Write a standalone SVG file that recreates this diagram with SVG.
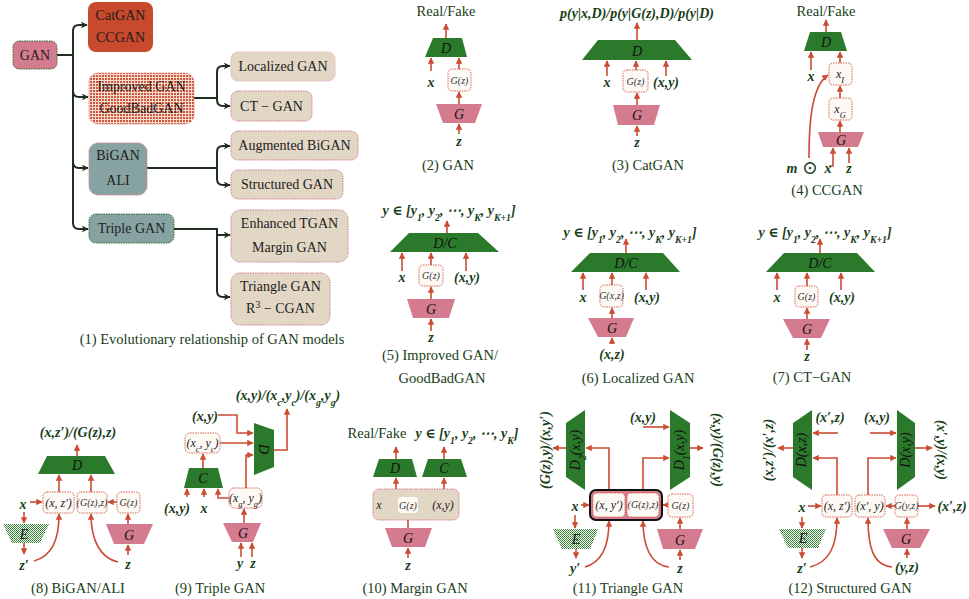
<svg xmlns="http://www.w3.org/2000/svg" width="969" height="599" viewBox="0 0 969 599" font-family="'Liberation Serif', 'DejaVu Serif', serif">
<defs>
<marker id="ah" viewBox="0 0 10 10" refX="9" refY="5" markerWidth="4" markerHeight="4" orient="auto"><path d="M0,0 L10,5 L0,10 z" fill="#cc4b33"/></marker>
<marker id="bk" viewBox="0 0 10 10" refX="9" refY="5" markerWidth="3.5" markerHeight="3.5" orient="auto"><path d="M0,0 L10,5 L0,10 L3,5 z" fill="#1f2f1f"/></marker>
<pattern id="hatch" width="3" height="3" patternUnits="userSpaceOnUse"><rect width="3" height="3" fill="#f3dccf"/><rect width="2" height="2" fill="#d0573c"/></pattern>
<pattern id="dots" width="2" height="2" patternUnits="userSpaceOnUse"><rect width="2" height="2" fill="#ffffff"/><rect width="1" height="1" fill="#2b7a2b"/><rect x="1" y="1" width="1" height="1" fill="#3f8f3f"/></pattern>
<style>
.g{fill:#2b7a2b}
.p{fill:#d47b8f}
.e{fill:url(#dots)}
.ar{stroke:#cc4b33;stroke-width:1.6;fill:none;marker-end:url(#ah)}
.tl{stroke:#1f2f1f;stroke-width:2;fill:none;marker-end:url(#bk)}
.bx{fill:#fdfaf5;stroke:#d6604e;stroke-width:1;stroke-dasharray:1.5 1}
text{font-family:"Liberation Serif","Times New Roman","DejaVu Serif",serif}
.tx{text-anchor:middle;fill:#173d17}
.cap{font-size:14.5px}
.lb{font-size:14px;font-style:italic;font-weight:bold}
.nm{font-size:14px;font-style:italic;fill:#111}
.sm{font-size:10px;font-style:italic;fill:#333}
.md{font-size:12px;font-style:italic;fill:#222}
.nt{font-size:14px;fill:#1d1d1d}
.sb{font-size:70%;baseline-shift:sub}
.sp{font-size:70%;baseline-shift:super}
</style>
</defs>

<g id="tree-connectors">
<path class="tl" d="M57,55 H73 V31 Q73,25 79,25 H87"/>
<path class="tl" d="M57,55 H73 V91 Q73,97 79,97 H88"/>
<path class="tl" d="M57,55 H73 V162 Q73,168 79,168 H88"/>
<path class="tl" d="M57,55 H73 V223 Q73,229 79,229 H88"/>
<path class="tl" d="M194,98 H217 V72 Q217,66 223,66 H230"/>
<path class="tl" d="M194,98 H217 V100 Q217,106 223,106 H230"/>
<path class="tl" d="M147,168 H217 V152 Q217,146 223,146 H230"/>
<path class="tl" d="M147,168 H217 V179 Q217,185 223,185 H230"/>
<path class="tl" d="M174,229 H217 V291 Q217,297 223,297 H230"/>
<path class="tl" d="M217,235 H230"/>
</g>
<g id="n-gan"><rect x="13" y="41" width="44" height="28" rx="6" fill="#d47b8f" stroke="#2b6a2b" stroke-dasharray="1.5 1"/><text class="tx nt" x="35" y="60">GAN</text></g>
<g id="n-catgan"><rect x="88" y="2" width="65" height="50" rx="8" fill="#c8492c"/><text class="tx nt" x="120.5" y="20">CatGAN</text><text class="tx nt" x="120.5" y="42">CCGAN</text></g>
<g id="n-improved"><rect x="89" y="73" width="105" height="51" rx="9" fill="url(#hatch)" stroke="#e08a8a" stroke-dasharray="1.5 1"/><text class="tx nt" x="141.5" y="91">Improved GAN</text><text class="tx nt" x="141.5" y="113">GoodBadGAN</text></g>
<g id="n-localized"><rect x="231" y="52" width="104" height="29" rx="7" fill="#e2d6c5" stroke="#e9c6c6"/><text class="tx nt" x="283" y="71">Localized GAN</text></g>
<g id="n-ctgan"><rect x="231" y="91" width="81" height="30" rx="7" fill="#e2d6c5" stroke="#d47b8f" stroke-dasharray="1.5 1"/><text class="tx nt" x="271.5" y="111">CT − GAN</text></g>
<g id="n-bigan"><rect x="89" y="143" width="58" height="52" rx="9" fill="#86a3a2" stroke="#d47b8f" stroke-dasharray="1.5 1"/><text class="tx nt" x="118" y="160">BiGAN</text><text class="tx nt" x="118" y="185">ALI</text></g>
<g id="n-augbigan"><rect x="231" y="131" width="127" height="29" rx="7" fill="#e2d6c5" stroke="#d47b8f" stroke-dasharray="1.5 1"/><text class="tx nt" x="294.5" y="150">Augmented BiGAN</text></g>
<g id="n-structured"><rect x="231" y="170" width="112" height="29" rx="7" fill="#e2d6c5" stroke="#d47b8f" stroke-dasharray="1.5 1"/><text class="tx nt" x="287" y="189">Structured GAN</text></g>
<g id="n-triple"><rect x="89" y="214" width="85" height="29" rx="7" fill="#86a3a2" stroke="#2b6a2b" stroke-dasharray="1.5 1"/><text class="tx nt" x="131.5" y="233">Triple GAN</text></g>
<g id="n-enhanced"><rect x="231" y="210" width="117" height="52" rx="9" fill="#e2d6c5" stroke="#d47b8f" stroke-dasharray="1.5 1"/><text class="tx nt" x="289.5" y="228">Enhanced TGAN</text><text class="tx nt" x="289.5" y="252">Margin GAN</text></g>
<g id="n-triangle"><rect x="231" y="273" width="99" height="52" rx="9" fill="#e2d6c5" stroke="#d47b8f" stroke-dasharray="1.5 1"/><text class="tx nt" x="280.5" y="291">Triangle GAN</text><text class="tx nt" x="280.5" y="313">R<tspan class="sp">3</tspan> − CGAN</text></g>
<text class="tx cap" x="212" y="344">(1)  Evolutionary relationship of GAN models</text>

<g id="p2">
<g class="connectors">
<path class="ar" d="M446,38 V24"/><path class="ar" d="M431,71 V58"/><path class="ar" d="M459,69 V58"/><path class="ar" d="M459,104 V92"/><path class="ar" d="M459,134 V124"/>
</g>
<g id="p2-d"><polygon class="g" points="433,38 462,38 467,57 425,57"/><text class="tx nm" x="446" y="53">D</text></g>
<g id="p2-gz"><rect class="bx" x="448" y="69" width="23" height="22" rx="4"/><text class="tx sm" x="459.5" y="83.5">G(z)</text></g>
<g id="p2-g"><polygon class="p" points="436,104 482,104 475,123 443,123"/><text class="tx nm" x="459" y="119">G</text></g>
<text class="tx cap" x="446" y="16">Real/Fake</text>
<text class="tx lb" x="431" y="87">x</text>
<text class="tx lb" x="459" y="146">z</text>
<text class="tx cap" x="448" y="170">(2) GAN</text>
</g>

<g id="p3">
<g class="connectors">
<path class="ar" d="M637,40 V23"/><path class="ar" d="M607,76 V61"/><path class="ar" d="M636,70 V61"/><path class="ar" d="M666,76 V61"/><path class="ar" d="M637,105 V93"/><path class="ar" d="M637,136 V126"/>
</g>
<g id="p3-d"><polygon class="g" points="598,40 675,40 692,60 582,60"/><text class="tx nm" x="637" y="56">D</text></g>
<g id="p3-gz"><rect class="bx" x="623" y="70" width="25" height="22" rx="4"/><text class="tx sm" x="635.5" y="85" font-size="11">G(z)</text></g>
<g id="p3-g"><polygon class="p" points="613,105 660,105 654,125 618,125"/><text class="tx nm" x="637" y="120">G</text></g>
<text class="tx lb" x="637" y="18" font-size="15">p(y|x,D)/p(y|G(z),D)/p(y|D)</text>
<text class="tx lb" x="607" y="87">x</text>
<text class="tx lb" x="666" y="87">(x,y)</text>
<text class="tx lb" x="637" y="147">z</text>
<text class="tx cap" x="648" y="170">(3) CatGAN</text>
</g>

<g id="p4">
<g class="connectors">
<path class="ar" d="M826,32 V20"/><path class="ar" d="M811,70 V52"/><path class="ar" d="M840,63 V52"/><path class="ar" d="M840,98 V86"/><path class="ar" d="M840,132 V121"/>
<path class="ar" d="M829,166 H833 V148"/><path class="ar" d="M849,163 V148"/>
<path class="ar" d="M809,158 C809,120 812,86 828,75"/>
</g>
<g id="p4-d"><polygon class="g" points="810,32 841,32 847,51 804,51"/><text class="tx nm" x="826" y="47">D</text></g>
<g id="p4-xi"><rect class="bx" x="829" y="63" width="23" height="22" rx="4"/><text class="tx md" x="840" y="78" font-size="13">x<tspan class="sb">I</tspan></text></g>
<g id="p4-xg"><rect class="bx" x="829" y="98" width="23" height="22" rx="4"/><text class="tx md" x="840" y="113" font-size="13">x<tspan class="sb">G</tspan></text></g>
<g id="p4-g"><polygon class="p" points="818,132 864,132 858,147 823,147"/><text class="tx nm" x="841" y="145">G</text></g>
<text class="tx cap" x="826" y="16">Real/Fake</text>
<text class="tx lb" x="811" y="81">x</text>
<text class="tx lb" x="792" y="173" font-size="16">m</text>
<text class="tx" x="810" y="174" font-size="19" fill="#173d17">⊙</text>
<text class="tx lb" x="828" y="173">x</text>
<text class="tx lb" x="849" y="173">z</text>
<text class="tx cap" x="827" y="195">(4) CCGAN</text>
</g>

<g id="p5">
<g class="connectors">
<path class="ar" d="M447,233 V221"/><path class="ar" d="M402,271 V253"/><path class="ar" d="M431,265 V253"/><path class="ar" d="M466,271 V253"/><path class="ar" d="M431,299 V287"/><path class="ar" d="M431,331 V319"/>
</g>
<g id="p5-d"><polygon class="g" points="409,233 478,233 499,252 390,252"/><text class="tx nm" x="445" y="248">D/C</text></g>
<g id="p5-gz"><rect class="bx" x="419" y="265" width="24" height="21" rx="4"/><text class="tx sm" x="431" y="279">G(z)</text></g>
<g id="p5-g"><polygon class="p" points="407,299 455,299 449,318 413,318"/><text class="tx nm" x="431" y="314">G</text></g>
<text class="tx lb" x="449" y="215">y ∈ [y<tspan class="sb">1</tspan>, y<tspan class="sb">2</tspan>, ⋯, y<tspan class="sb">K</tspan>, y<tspan class="sb">K+1</tspan>]</text>
<text class="tx lb" x="402" y="282">x</text>
<text class="tx lb" x="467" y="282">(x,y)</text>
<text class="tx lb" x="431" y="342">z</text>
<text class="tx cap" x="440" y="360">(5) Improved GAN/</text>
<text class="tx cap" x="442" y="383">GoodBadGAN</text>
</g>

<g id="p6">
<g class="connectors">
<path class="ar" d="M626,253 V239"/><path class="ar" d="M583,290 V273"/><path class="ar" d="M612,285 V273"/><path class="ar" d="M646,290 V273"/><path class="ar" d="M612,318 V308"/><path class="ar" d="M612,344 V338"/>
</g>
<g id="p6-d"><polygon class="g" points="590,253 663,253 680,272 571,272"/><text class="tx nm" x="626" y="268">D/C</text></g>
<g id="p6-gxz"><rect class="bx" x="600" y="285" width="23" height="22" rx="4"/><text class="tx sm" x="611.5" y="299" font-size="7">G(x,z)</text></g>
<g id="p6-g"><polygon class="p" points="588,318 634,318 626,337 598,337"/><text class="tx nm" x="612" y="333">G</text></g>
<text class="tx lb" x="630" y="237">y ∈ [y<tspan class="sb">1</tspan>, y<tspan class="sb">2</tspan>, ⋯, y<tspan class="sb">K</tspan>, y<tspan class="sb">K+1</tspan>]</text>
<text class="tx lb" x="583" y="302">x</text>
<text class="tx lb" x="647" y="302">(x,y)</text>
<text class="tx lb" x="612" y="359">(x,z)</text>
<text class="tx cap" x="638" y="383">(6) Localized GAN</text>
</g>

<g id="p7">
<g class="connectors">
<path class="ar" d="M820,253 V239"/><path class="ar" d="M777,290 V273"/><path class="ar" d="M807,286 V273"/><path class="ar" d="M841,290 V273"/><path class="ar" d="M807,319 V308"/><path class="ar" d="M807,350 V339"/>
</g>
<g id="p7-d"><polygon class="g" points="784,253 857,253 875,272 766,272"/><text class="tx nm" x="820" y="268">D/C</text></g>
<g id="p7-gz"><rect class="bx" x="795" y="286" width="23" height="21" rx="4"/><text class="tx sm" x="806.5" y="300">G(z)</text></g>
<g id="p7-g"><polygon class="p" points="783,319 830,319 821,338 793,338"/><text class="tx nm" x="807" y="334">G</text></g>
<text class="tx lb" x="825" y="237">y ∈ [y<tspan class="sb">1</tspan>, y<tspan class="sb">2</tspan>, ⋯, y<tspan class="sb">K</tspan>, y<tspan class="sb">K+1</tspan>]</text>
<text class="tx lb" x="777" y="302">x</text>
<text class="tx lb" x="842" y="302">(x,y)</text>
<text class="tx lb" x="807" y="361">z</text>
<text class="tx cap" x="812" y="382">(7) CT−GAN</text>
</g>

<g id="p8">
<g class="connectors">
<path class="ar" d="M77,456 V445"/><path class="ar" d="M59,492 V475"/><path class="ar" d="M91,492 V475"/><path class="ar" d="M117,502 H108"/>
<path class="ar" d="M30,502 H42"/><path class="ar" d="M24,512 V523"/><path class="ar" d="M24,543 V554"/>
<path class="ar" d="M34,561 C52,556 59,540 59,514"/><path class="ar" d="M118,562 C100,558 91,540 91,514"/>
<path class="ar" d="M128,524 V514"/><path class="ar" d="M128,555 V545"/>
</g>
<g id="p8-d"><polygon class="g" points="47,456 105,456 115,474 38,474"/><text class="tx nm" x="77" y="470">D</text></g>
<g id="p8-xz"><rect class="bx" x="43" y="492" width="31" height="21" rx="4"/><text class="tx md" x="58.5" y="506.5" font-size="11">(x, z′)</text></g>
<g id="p8-gzz"><rect class="bx" x="77" y="492" width="30" height="21" rx="4"/><text class="tx sm" x="92" y="505.5" font-size="8">(G(z),z)</text></g>
<g id="p8-gz"><rect class="bx" x="117" y="492" width="23" height="21" rx="4"/><text class="tx sm" x="128.5" y="506">G(z)</text></g>
<g id="p8-e"><polygon class="e" points="3,524 49,524 40,543 12,543"/><text class="tx nm" x="24" y="539">E</text></g>
<g id="p8-g"><polygon class="p" points="106,524 153,524 144,544 114,544"/><text class="tx nm" x="129" y="540">G</text></g>
<text class="tx lb" x="78" y="437">(x,z′)/(G(z),z)</text>
<text class="tx lb" x="23" y="509">x</text>
<text class="tx lb" x="24" y="570">z′</text>
<text class="tx lb" x="128" y="569">z</text>
<text class="tx cap" x="78" y="593">(8) BiGAN/ALI</text>
</g>

<g id="p9">
<g class="connectors">
<path class="ar" d="M274,450 H287 V409"/>
<path class="ar" d="M218,415 H237 V433 H253"/>
<path class="ar" d="M220,443 H253"/>
<path class="ar" d="M203,468 V454"/>
<path class="ar" d="M187,497 V489"/><path class="ar" d="M204,497 V489"/>
<path class="ar" d="M229,498 H218 V489"/>
<path class="ar" d="M246,488 V455 H253"/>
<path class="ar" d="M244,523 V509"/>
<path class="ar" d="M241,557 V543"/><path class="ar" d="M252,557 V543"/>
</g>
<g id="p9-d"><polygon class="g" points="254,423 274,430 274,467 254,475"/><text class="tx nm" x="264" y="449" transform="rotate(90 264 449)" dy="5">D</text></g>
<g id="p9-xcyc"><rect class="bx" x="185" y="433" width="35" height="20" rx="5"/><text class="tx md" x="202.5" y="447" font-size="11">(x<tspan class="sb">c</tspan>, y<tspan class="sb">c</tspan>)</text></g>
<g id="p9-c"><polygon class="g" points="189,468 218,468 223,488 184,488"/><text class="tx nm" x="203" y="483">C</text></g>
<g id="p9-xgyg"><rect class="bx" x="229" y="488" width="33" height="20" rx="5"/><text class="tx md" x="245.5" y="502" font-size="11">(x<tspan class="sb">g</tspan>, y<tspan class="sb">g</tspan>)</text></g>
<g id="p9-g"><polygon class="p" points="223,523 261,523 253,542 232,542"/><text class="tx nm" x="243" y="538">G</text></g>
<text class="tx lb" x="288" y="400">(x,y)/(x<tspan class="sb">c</tspan>,y<tspan class="sb">c</tspan>)/(x<tspan class="sb">g</tspan>,y<tspan class="sb">g</tspan>)</text>
<text class="tx lb" x="205" y="421">(x,y)</text>
<text class="tx lb" x="177" y="513">(x,y)</text>
<text class="tx lb" x="204" y="513">x</text>
<text class="tx lb" x="240" y="568">y</text>
<text class="tx lb" x="253" y="568">z</text>
<text class="tx cap" x="220" y="593">(9) Triple GAN</text>
</g>

<g id="p10">
<g class="connectors">
<path class="ar" d="M396,459 V447"/><path class="ar" d="M444,459 V447"/><path class="ar" d="M396,489 V478"/><path class="ar" d="M444,489 V478"/><path class="ar" d="M408,528 V514"/><path class="ar" d="M408,558 V548"/>
</g>
<g id="p10-d"><polygon class="g" points="379,459 412,459 417,477 373,477"/><text class="tx nm" x="395" y="473">D</text></g>
<g id="p10-c"><polygon class="g" points="428,459 461,459 467,477 422,477"/><text class="tx nm" x="444" y="473">C</text></g>
<g id="p10-in"><rect x="373" y="489" width="86" height="31" rx="6" fill="#e2d6c5" stroke="#d47b8f" stroke-dasharray="1.5 1"/>
<rect x="398" y="497" width="20" height="16" rx="3" fill="#fdfaf5"/>
<text class="tx md" x="379" y="509" font-size="13">x</text><text class="tx sm" x="408" y="509">G(z)</text><text class="tx md" x="443" y="509" font-size="13">(x,y)</text></g>
<g id="p10-g"><polygon class="p" points="385,528 432,528 425,547 392,547"/><text class="tx nm" x="408" y="543">G</text></g>
<text class="tx cap" x="377" y="438">Real/Fake</text>
<text class="tx lb" x="467" y="438">y ∈ [y<tspan class="sb">1</tspan>, y<tspan class="sb">2</tspan>, ⋯, y<tspan class="sb">K</tspan>]</text>
<text class="tx lb" x="408" y="570">z</text>
<text class="tx cap" x="415" y="593">(10) Margin GAN</text>
</g>

<g id="p11">
<g class="connectors">
<path class="ar" d="M566,448 H553"/><path class="ar" d="M690,448 H703"/>
<path class="ar" d="M643,427 H669"/>
<path class="ar" d="M609,490 V448 H586"/>
<path class="ar" d="M643,490 V458 H669"/>
<path class="ar" d="M668,505 H663"/>
<path class="ar" d="M581,505 H589"/><path class="ar" d="M575,515 V528"/><path class="ar" d="M576,549 V558"/>
<path class="ar" d="M585,567 C603,562 609,545 609,521"/><path class="ar" d="M669,567 C650,565 643,545 643,521"/>
<path class="ar" d="M680,529 V518"/><path class="ar" d="M680,560 V550"/>
</g>
<g id="p11-d2"><polygon class="g" points="566,423 585,410 585,490 566,477"/><text class="tx nm" x="576" y="450" font-size="12" transform="rotate(-90 576 450)" dy="4">D<tspan class="sb">2</tspan>(x,y)</text></g>
<g id="p11-d1"><polygon class="g" points="670,410 690,423 690,477 670,490"/><text class="tx nm" x="680" y="450" font-size="12" transform="rotate(-90 680 450)" dy="4">D<tspan class="sb">1</tspan>(x,y)</text></g>
<g id="p11-pair"><rect x="590" y="490" width="72" height="30" rx="6" fill="#d47b8f" stroke="#111" stroke-width="2"/>
<rect class="bx" x="593" y="493" width="32" height="24" rx="4"/><rect class="bx" x="627" y="493" width="32" height="24" rx="4"/>
<text class="tx md" x="609" y="509">(x, y′)</text><text class="tx sm" x="643" y="508" font-size="8">(G(z),z)</text></g>
<g id="p11-gz"><rect class="bx" x="668" y="494" width="25" height="23" rx="4"/><text class="tx sm" x="680.5" y="509">G(z)</text></g>
<g id="p11-e"><polygon class="e" points="553,529 598,529 590,549 562,549"/><text class="tx nm" x="576" y="544">E</text></g>
<g id="p11-g"><polygon class="p" points="657,529 703,529 695,549 663,549"/><text class="tx nm" x="680" y="545">G</text></g>
<text class="tx lb" x="545" y="450" transform="rotate(-90 545 450)" dy="5">(G(z),y)/(x,y′)</text>
<text class="tx lb" x="718" y="450" transform="rotate(90 718 450)" dy="5">(x,y)/(G(z),y)</text>
<text class="tx lb" x="643" y="422">(x,y)</text>
<text class="tx lb" x="575" y="511">x</text>
<text class="tx lb" x="575" y="573">y′</text>
<text class="tx lb" x="680" y="573">z</text>
<text class="tx cap" x="628" y="593">(11) Triangle GAN</text>
</g>

<g id="p12">
<g class="connectors">
<path class="ar" d="M838,433 H813"/><path class="ar" d="M870,433 H896"/>
<path class="ar" d="M793,448 H778"/><path class="ar" d="M915,448 H932"/>
<path class="ar" d="M837,495 V458 H813"/><path class="ar" d="M868,495 V458 H896"/>
<path class="ar" d="M895,506 H886"/><path class="ar" d="M918,506 H935"/>
<path class="ar" d="M808,506 H821"/><path class="ar" d="M802,517 V528"/><path class="ar" d="M802,548 V558"/>
<path class="ar" d="M810,567 C830,562 837,545 837,518"/><path class="ar" d="M892,567 C872,565 868,545 868,518"/>
<path class="ar" d="M907,529 V518"/><path class="ar" d="M907,558 V549"/>
</g>
<g id="p12-dxz"><polygon class="g" points="793,423 812,410 812,490 793,477"/><text class="tx nm" x="802" y="450" font-size="12" transform="rotate(-90 802 450)" dy="4">D(x,z)</text></g>
<g id="p12-dxy"><polygon class="g" points="897,410 915,423 915,477 897,490"/><text class="tx nm" x="906" y="450" font-size="12" transform="rotate(-90 906 450)" dy="4">D(x,y)</text></g>
<g id="p12-xz"><rect class="bx" x="822" y="495" width="30" height="22" rx="4"/><text class="tx md" x="837" y="510">(x, z′)</text></g>
<g id="p12-xy"><rect class="bx" x="855" y="495" width="30" height="22" rx="4"/><text class="tx md" x="870" y="510">(x′, y)</text></g>
<g id="p12-gyz"><rect class="bx" x="895" y="495" width="23" height="22" rx="4"/><text class="tx sm" x="906.5" y="509" font-size="8">G(y,z)</text></g>
<g id="p12-e"><polygon class="e" points="779,529 826,529 818,548 788,548"/><text class="tx nm" x="803" y="543">E</text></g>
<g id="p12-g"><polygon class="p" points="883,529 930,529 920,548 892,548"/><text class="tx nm" x="906" y="544">G</text></g>
<text class="tx lb" x="768" y="450" transform="rotate(-90 768 450)" dy="5">(x,z′)/(x′,z)</text>
<text class="tx lb" x="942" y="450" transform="rotate(90 942 450)" dy="5">(x′,y)/(x,y)</text>
<text class="tx lb" x="830" y="422">(x′,z)</text>
<text class="tx lb" x="877" y="422">(x,y)</text>
<text class="tx lb" x="952" y="511">(x′,z)</text>
<text class="tx lb" x="802" y="512">x</text>
<text class="tx lb" x="802" y="573">z′</text>
<text class="tx lb" x="907" y="572">(y,z)</text>
<text class="tx cap" x="850" y="593">(12) Structured GAN</text>
</g>
</svg>
